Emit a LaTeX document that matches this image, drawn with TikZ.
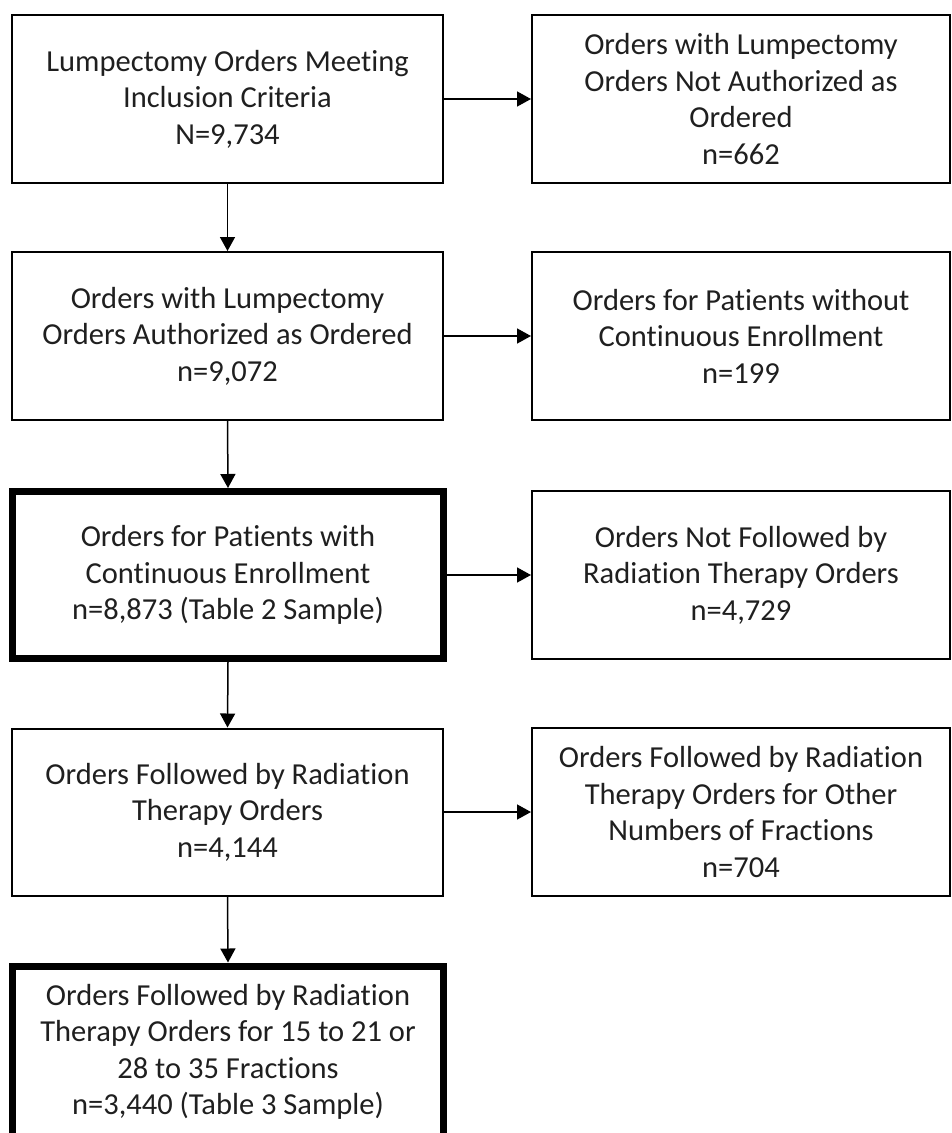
\documentclass[tikz,border=0pt]{standalone}
\usepackage{fontspec}
\setmainfont{Carlito}[Ligatures={NoCommon}]
\usetikzlibrary{arrows.meta}
\begin{document}
\begin{tikzpicture}[x=1pt,y=-1pt,
  box/.style={draw=black, line width=2pt, align=center, inner sep=0pt,
    font=\fontsize{30.5}{36.5}\selectfont, text=black!88},
  thickbox/.style={box, line width=7pt},
  arr/.style={line width=1.5pt, -{Triangle[length=14pt,width=15pt]}}]
\useasboundingbox (0,0) rectangle (952,1133);
\clip (0,0) rectangle (952,1133);
% left column
\node[box, minimum width=431pt, minimum height=168pt] (a) at (227.5,99)
  {Lumpectomy Orders Meeting\\Inclusion Criteria\\N=9,734};
\node[box, minimum width=431pt, minimum height=168pt] (b) at (227.5,336)
  {Orders with Lumpectomy\\Orders Authorized as Ordered\\n=9,072};
\node[thickbox, minimum width=431pt, minimum height=167pt] (c) at (228,575)
  {Orders for Patients with\\Continuous Enrollment\\n=8,873 (Table 2 Sample)};
\node[box, minimum width=431pt, minimum height=167pt] (d) at (227.5,812)
  {Orders Followed by Radiation\\Therapy Orders\\n=4,144};
\node[thickbox, minimum width=431pt, minimum height=172pt] (e) at (228,1052)
  {Orders Followed by Radiation\\Therapy Orders for 15 to 21 or\\28 to 35 Fractions\\n=3,440 (Table 3 Sample)};
% right column
\node[box, minimum width=418pt, minimum height=168pt] (ra) at (741,99)
  {Orders with Lumpectomy\\Orders Not Authorized as\\Ordered\\n=662};
\node[box, minimum width=418pt, minimum height=168pt] (rb) at (741,336)
  {Orders for Patients without\\Continuous Enrollment\\n=199};
\node[box, minimum width=418pt, minimum height=168pt] (rc) at (741,575)
  {Orders Not Followed by\\Radiation Therapy Orders\\n=4,729};
\node[box, minimum width=418pt, minimum height=168pt] (rd) at (741,812)
  {Orders Followed by Radiation\\Therapy Orders for Other\\Numbers of Fractions\\n=704};
% connectors
\draw[arr] (a.south) -- (b.north);
\draw[arr] (b.south) -- (c.north);
\draw[arr] (c.south) -- (d.north);
\draw[arr] (d.south) -- (e.north);
\draw[arr] (a.east) -- (ra.west);
\draw[arr] (b.east) -- (rb.west);
\draw[arr] (c.east) -- (rc.west);
\draw[arr] (d.east) -- (rd.west);
\end{tikzpicture}
\end{document}
